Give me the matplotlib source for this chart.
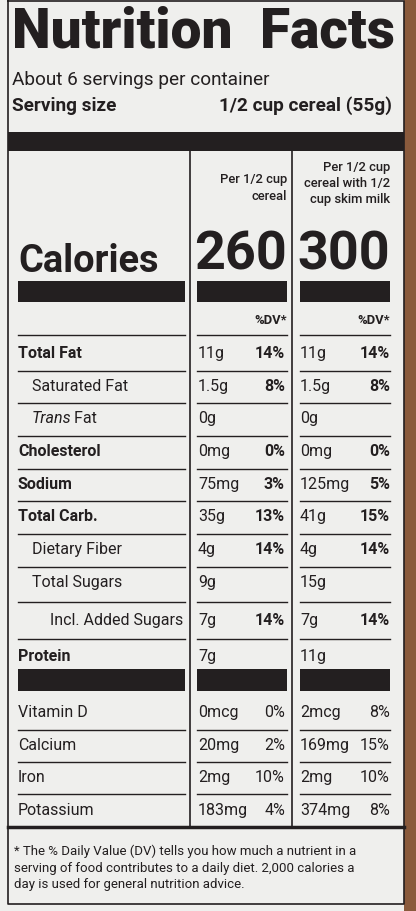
import matplotlib
matplotlib.use("Agg")
import matplotlib.pyplot as plt
from matplotlib.patches import Rectangle

nutrients = ["Total Fat", "Saturated Fat", "Trans Fat", "Cholesterol", "Sodium", "Total Carb.",
             "Dietary Fiber", "Total Sugars", "Incl. Added Sugars", "Protein"]
bold_flags = [True, False, False, True, True, True, False, False, False, True]
indent = [0, 1, 1, 0, 0, 0, 1, 1, 2, 0]
amount_cereal = ["11g", "1.5g", "0g", "0mg", "75mg", "35g", "4g", "9g", "7g", "7g"]
dv_cereal = ["14%", "8%", "", "0%", "3%", "13%", "14%", "", "14%", ""]
amount_milk = ["11g", "1.5g", "0g", "0mg", "125mg", "41g", "4g", "15g", "7g", "11g"]
dv_milk = ["14%", "8%", "", "0%", "5%", "15%", "14%", "", "14%", ""]
row_y = [354, 387, 419, 452, 485, 517, 550, 583, 621, 657]

vitamins = ["Vitamin D", "Calcium", "Iron", "Potassium"]
vit_amount_cereal = ["0mcg", "20mg", "2mg", "183mg"]
vit_dv_cereal = ["0%", "2%", "10%", "4%"]
vit_amount_milk = ["2mcg", "169mg", "2mg", "374mg"]
vit_dv_milk = ["8%", "15%", "10%", "8%"]
vit_y = [713, 746, 778, 811]

calories = ["260", "300"]

W, H = 416, 912
fig = plt.figure(figsize=(W/100, H/100), dpi=100)
fig.patch.set_facecolor("#efefed")
ax = fig.add_axes([0, 0, 1, 1])
ax.set_xlim(0, W); ax.set_ylim(H, 0); ax.axis("off")
FONT = "Roboto"
K = "#231f20"
def T(x, y, s, size, ha="left", weight="normal", style="normal", va="center", ls=1.2):
    ax.text(x, y, s, fontsize=size*0.72, ha=ha, va=va, fontweight=weight, fontstyle=style,
            family=FONT, color=K, linespacing=ls)
def R(x0, y0, x1, y1, c=K):
    ax.add_patch(Rectangle((x0, y0), x1-x0, y1-y0, color=c, lw=0))

R(404, 0, 416, 912, "#8a5a3c")
ax.plot([8, 8, 404, 404, 8], [2, 905, 905, 2, 2], color=K, lw=1.2)

T(12, 32, "Nutrition  Facts", 55, weight="black")
T(12, 80, "About 6 servings per container", 19)
T(12, 106, "Serving size", 19, weight="bold")
T(392, 106, "1/2 cup cereal (55g)", 19, ha="right", weight="bold")
R(8, 133, 404, 152)
ax.plot([190, 190], [152, 828], color=K, lw=1.2)
ax.plot([292, 292], [152, 828], color=K, lw=1.2)
T(287, 188, "Per 1/2 cup\ncereal", 13, ha="right", weight="medium", ls=1.3)
T(390, 183, "Per 1/2 cup\ncereal with 1/2\ncup skim milk", 13, ha="right", weight="medium", ls=1.3)
T(18, 262, "Calories", 38, weight="bold")
T(287, 255, calories[0], 54, ha="right", weight="bold")
T(390, 255, calories[1], 54, ha="right", weight="bold")
R(18, 282, 185, 303); R(197, 282, 287, 303); R(300, 282, 390, 303)
T(287, 321, "%DV*", 13, ha="right", weight="bold")
T(390, 321, "%DV*", 13, ha="right", weight="bold")

def seps(ys):
    for y in ys:
        ax.plot([18, 185], [y, y], color=K, lw=1)
        ax.plot([197, 287], [y, y], color=K, lw=1)
        ax.plot([300, 390], [y, y], color=K, lw=1)

seps([336])
S = 16
for i, n in enumerate(nutrients):
    y = row_y[i]
    xs = 18 + [0, 14, 32][indent[i]]
    if n == "Trans Fat":
        ax.text(xs, y, "Trans", fontsize=S*0.72, fontstyle="italic", family=FONT, va="center", color=K)
        T(xs + 38, y, " Fat", S)
    else:
        T(xs, y, n, S, weight="bold" if bold_flags[i] else "normal")
    T(198, y, amount_cereal[i], S)
    T(285, y, dv_cereal[i], S, ha="right", weight="bold")
    T(300, y, amount_milk[i], S)
    T(390, y, dv_milk[i], S, ha="right", weight="bold")
    if i < len(nutrients) - 1:
        seps([(row_y[i] + row_y[i+1]) / 2 + 1])
R(18, 670, 185, 692); R(197, 670, 287, 692); R(300, 670, 390, 692)
for i, n in enumerate(vitamins):
    y = vit_y[i]
    T(18, y, n, S)
    T(198, y, vit_amount_cereal[i], S)
    T(285, y, vit_dv_cereal[i], S, ha="right")
    T(300, y, vit_amount_milk[i], S)
    T(390, y, vit_dv_milk[i], S, ha="right")
    if i < len(vitamins) - 1:
        seps([(vit_y[i] + vit_y[i+1]) / 2 + 1])
ax.plot([8, 404], [828, 828], color=K, lw=2.5)
T(14, 868, "* The % Daily Value (DV) tells you how much a nutrient in a\nserving of food contributes to a daily diet. 2,000 calories a\nday is used for general nutrition advice.", 13.2, ls=1.35)

fig.savefig("out.png", dpi=100, facecolor=fig.get_facecolor())
